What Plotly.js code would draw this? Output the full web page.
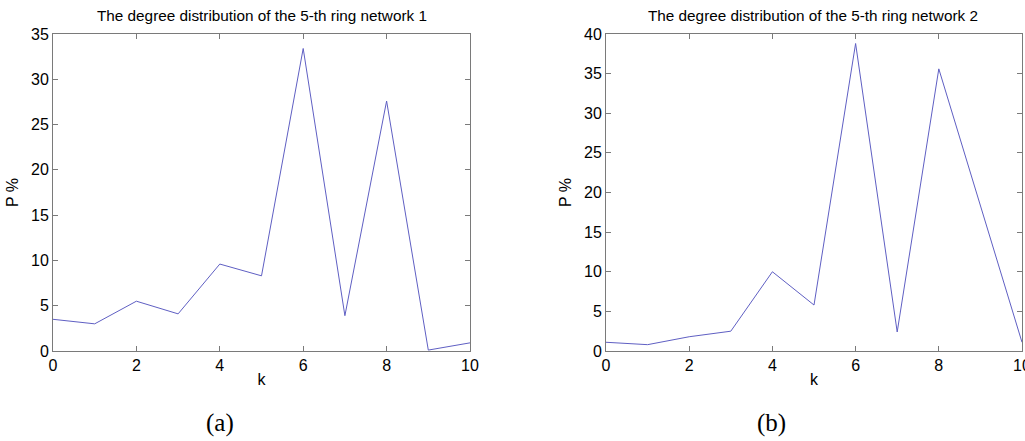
<!DOCTYPE html>
<html>
<head>
<meta charset="utf-8">
<script src="https://cdn.plot.ly/plotly-3.0.1.min.js"></script>
<style>
  html, body { margin: 0; padding: 0; background: #fff; }
  #chart { width: 1025px; height: 441px; }
</style>
</head>
<body>
<div id="chart"></div>
<script>
// Data
const k = [0, 1, 2, 3, 4, 5, 6, 7, 8, 9, 10];
const network1 = [3.5, 3.0, 5.5, 4.1, 9.6, 8.3, 33.4, 3.9, 27.6, 0.1, 0.9];
const network2 = [1.1, 0.8, 1.8, 2.5, 10.0, 5.8, 38.8, 2.4, 35.6, 18.3, 1.1];
const title1 = 'The degree distribution of the 5-th ring network 1';
const title2 = 'The degree distribution of the 5-th ring network 2';
const xTicks = [0, 2, 4, 6, 8, 10];
const yTicks1 = [0, 5, 10, 15, 20, 25, 30, 35];
const yTicks2 = [0, 5, 10, 15, 20, 25, 30, 35, 40];

const W = 1025, H = 441;
const tickFont = { family: 'Liberation Sans, Arial, sans-serif', size: 16, color: '#000' };
const titleFont = { family: 'Liberation Sans, Arial, sans-serif', size: 15.3, color: '#000' };
const capFont = { family: 'Liberation Serif, DejaVu Serif, serif', size: 25, color: '#000' };
const lineColor = 'rgb(95,95,195)';

function axisBase() {
  return {
    showline: true, mirror: 'ticks', linecolor: '#7a7a7a', linewidth: 1,
    ticks: 'inside', ticklen: 5, tickcolor: '#7a7a7a', tickwidth: 1,
    showgrid: false, zeroline: false, tickfont: tickFont, fixedrange: true,
    ticklabeloverflow: 'allow'
  };
}

const yTop = 1 - 34 / H, yBot = 1 - 351 / H;

const layout = {
  width: W, height: H,
  margin: { l: 0, r: 0, t: 0, b: 0 },
  paper_bgcolor: '#fff', plot_bgcolor: '#fff',
  showlegend: false,
  xaxis: Object.assign(axisBase(), {
    domain: [53 / W, 470 / W], range: [0, 10], tickvals: xTicks, anchor: 'y',
    title: { text: 'k', font: tickFont, standoff: 0 }
  }),
  yaxis: Object.assign(axisBase(), {
    domain: [yBot, yTop], range: [0, 35], tickvals: yTicks1, anchor: 'x',
    title: { text: 'P %', font: tickFont, standoff: 8 }
  }),
  xaxis2: Object.assign(axisBase(), {
    domain: [606 / W, 1022 / W], range: [0, 10], tickvals: xTicks, anchor: 'y2',
    title: { text: 'k', font: tickFont, standoff: 0 }
  }),
  yaxis2: Object.assign(axisBase(), {
    domain: [yBot, yTop], range: [0, 40], tickvals: yTicks2, anchor: 'x2',
    title: { text: 'P %', font: tickFont, standoff: 8 }
  }),
  annotations: [
    { text: title1, xref: 'paper', yref: 'paper', x: 261.5 / W, y: 1 - 16 / H,
      xanchor: 'center', yanchor: 'middle', showarrow: false, font: titleFont },
    { text: title2, xref: 'paper', yref: 'paper', x: 813 / W, y: 1 - 16 / H,
      xanchor: 'center', yanchor: 'middle', showarrow: false, font: titleFont },
    { text: '(a)', xref: 'paper', yref: 'paper', x: 220 / W, y: 1 - 423 / H,
      xanchor: 'center', yanchor: 'middle', showarrow: false, font: capFont },
    { text: '(b)', xref: 'paper', yref: 'paper', x: 771 / W, y: 1 - 423 / H,
      xanchor: 'center', yanchor: 'middle', showarrow: false, font: capFont }
  ]
};

const data = [
  { x: k, y: network1, type: 'scatter', mode: 'lines', xaxis: 'x', yaxis: 'y',
    line: { color: lineColor, width: 1 }, hoverinfo: 'x+y' },
  { x: k, y: network2, type: 'scatter', mode: 'lines', xaxis: 'x2', yaxis: 'y2',
    line: { color: lineColor, width: 1 }, hoverinfo: 'x+y' }
];

Plotly.newPlot('chart', data, layout, { displayModeBar: false, staticPlot: true });
</script>
</body>
</html>
